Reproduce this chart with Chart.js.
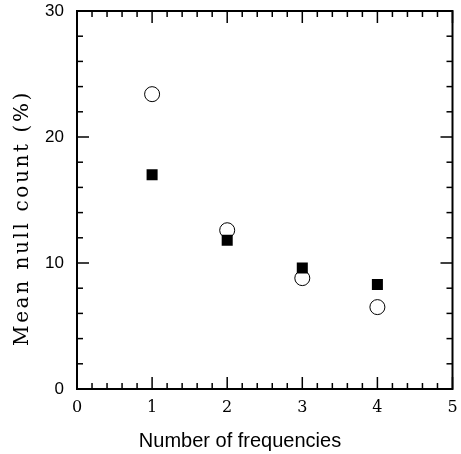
<!DOCTYPE html>
<html>
<head>
<meta charset="utf-8">
<script src="https://cdn.jsdelivr.net/npm/chart.js@4/dist/chart.umd.min.js"></script>
<style>
  html, body { margin: 0; padding: 0; background: #fff; }
  #wrap { width: 461px; height: 454px; }
</style>
</head>
<body>
<div id="wrap"><canvas id="c" width="461" height="454"></canvas></div>
<script>
// values
const freqs = [1, 2, 3, 4];
const openCircles = [23.4, 12.6, 8.8, 6.5];
const filledSquares = [17.0, 11.8, 9.6, 8.3];
const xTitle = "Number of frequencies";
const yTitle = "Mean null count (%)";

const pts = (ys) => freqs.map((f, i) => ({ x: f, y: ys[i] }));

// inward ticks on all four sides + box frame + axis titles
const frameTicks = {
  id: "frameTicks",
  afterDatasetsDraw(chart) {
    const { ctx, chartArea: a, scales: { x, y } } = chart;
    ctx.save();
    ctx.strokeStyle = "#000";
    ctx.lineWidth = 1.5;
    const seg = (x1, y1, x2, y2) => {
      ctx.beginPath(); ctx.moveTo(x1, y1); ctx.lineTo(x2, y2); ctx.stroke();
    };
    x.ticks.forEach(t => {
      const px = x.getPixelForValue(t.value);
      const len = t.label !== "" ? 12 : 6;
      seg(px, a.bottom, px, a.bottom - len);
      seg(px, a.top, px, a.top + len);
    });
    y.ticks.forEach(t => {
      const py = y.getPixelForValue(t.value);
      const len = t.label !== "" ? 12 : 6;
      seg(a.left, py, a.left + len, py);
      seg(a.right, py, a.right - len, py);
    });
    ctx.lineWidth = 2;
    ctx.strokeRect(a.left, a.top, a.right - a.left, a.bottom - a.top);

    ctx.fillStyle = "#000";
    ctx.font = "20px 'Liberation Sans'";
    ctx.textAlign = "center";
    ctx.textBaseline = "alphabetic";
    ctx.fillText(xTitle, 240, 447);

    ctx.translate(28, 218);
    ctx.rotate(-Math.PI / 2);
    ctx.font = "20px 'DejaVu Serif'";
    ctx.letterSpacing = "2.6px";
    ctx.fillText(yTitle, 0, 0);
    ctx.restore();
  }
};

const isWhole = v => Math.abs(v - Math.round(v)) < 1e-6;

new Chart(document.getElementById("c"), {
  type: "scatter",
  data: {
    datasets: [
      {
        label: "open",
        data: pts(openCircles),
        pointStyle: "circle",
        pointRadius: 7.5,
        pointHoverRadius: 7.5,
        pointBackgroundColor: "#fff",
        pointBorderColor: "#000",
        pointBorderWidth: 1,
        order: 2
      },
      {
        label: "filled",
        data: pts(filledSquares),
        pointStyle: "rect",
        pointRadius: 7.8,
        pointHoverRadius: 7.8,
        pointBackgroundColor: "#000",
        pointBorderColor: "#000",
        pointBorderWidth: 0,
        order: 1
      }
    ]
  },
  options: {
    responsive: false,
    animation: false,
    events: [],
    layout: { padding: { top: 11, right: 5, left: 0, bottom: 0 } },
    plugins: { legend: { display: false }, tooltip: { enabled: false } },
    scales: {
      x: {
        type: "linear",
        min: 0, max: 5,
        afterFit: s => { s.height = 65; s.paddingLeft = 0; s.paddingRight = 0; },
        border: { display: false },
        grid: { display: false, drawTicks: false },
        ticks: {
          stepSize: 0.2,
          maxTicksLimit: 100,
          autoSkip: false,
          maxRotation: 0,
          padding: 9,
          color: "#000",
          font: { family: "'DejaVu Serif'", size: 16 },
          callback: v => isWhole(v) ? String(Math.round(v)) : ""
        }
      },
      y: {
        type: "linear",
        min: 0, max: 30,
        afterFit: s => { s.width = 77; s.paddingTop = 0; s.paddingBottom = 0; },
        border: { display: false },
        grid: { display: false, drawTicks: false },
        ticks: {
          stepSize: 2,
          maxTicksLimit: 100,
          autoSkip: false,
          padding: 13,
          color: "#000",
          font: { family: "'Liberation Sans'", size: 17 },
          callback: v => v % 10 === 0 ? String(v) : ""
        }
      }
    }
  },
  plugins: [frameTicks]
});
</script>
</body>
</html>
